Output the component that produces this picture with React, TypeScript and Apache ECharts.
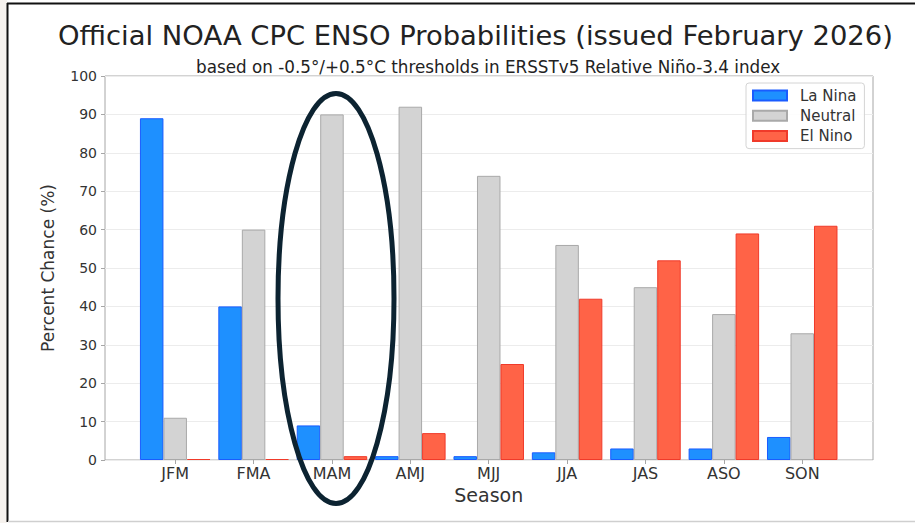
import React, { useEffect, useRef } from "react";
import * as echarts from "echarts";

const seasons = ["JFM", "FMA", "MAM", "AMJ", "MJJ", "JJA", "JAS", "ASO", "SON"];
const laNina = [89, 40, 9, 1, 1, 2, 3, 3, 6];
const neutral = [11, 60, 90, 92, 74, 56, 45, 38, 33];
const elNino = [0, 0, 1, 7, 25, 42, 52, 59, 61];
const yTicks = { min: 0, max: 100, interval: 10 };

const FONT = "DejaVu Sans";
const TXT = "#333333";
const SPINE = "#a6a6a6";

export default function App() {
  const ref = useRef<HTMLDivElement>(null);
  useEffect(() => {
    if (!ref.current) return;
    const chart = echarts.init(ref.current, null, { renderer: "svg" });
    const frameLeft = 105;
    const frameRight = 873;
    const top = 76;
    const bottom = 63;
    const band = 78.38;
    const firstCenter = 175.2;
    const barsLeft = firstCenter - band / 2;
    const barsRight = barsLeft + band * seasons.length;
    chart.setOption({
      animation: false,
      backgroundColor: "#ffffff",
      textStyle: { fontFamily: FONT },
      title: [
        {
          text: "Official NOAA CPC ENSO Probabilities (issued February 2026)",
          left: 58,
          top: 22,
          padding: 0,
          textStyle: { fontFamily: FONT, fontSize: 27.4, fontWeight: "normal", color: "#222" },
        },
        {
          text: "based on -0.5°/+0.5°C thresholds in ERSSTv5 Relative Niño-3.4 index",
          left: 196,
          top: 58,
          padding: 0,
          textStyle: { fontFamily: FONT, fontSize: 16.8, fontWeight: "normal", color: "#222" },
        },
      ],
      legend: {
        orient: "vertical",
        left: 746,
        top: 83,
        padding: [5, 8, 5, 6],
        itemWidth: 34,
        itemHeight: 10,
        itemGap: 5.3,
        icon: "rect",
        borderColor: "#d4d4d4",
        borderWidth: 1,
        borderRadius: 3,
        backgroundColor: "rgba(255,255,255,0.9)",
        textStyle: { fontFamily: FONT, fontSize: 15, color: TXT, lineHeight: 15, padding: [0, 0, 0, 8] },
        data: ["La Nina", "Neutral", "El Nino"],
      },
      grid: [
        {
          left: frameLeft,
          width: frameRight - frameLeft,
          top,
          bottom,
          show: true,
          borderColor: SPINE,
          borderWidth: 1,
          backgroundColor: "transparent",
        },
        {
          left: barsLeft,
          width: barsRight - barsLeft,
          top,
          bottom,
        },
      ],
      xAxis: [
        { type: "value", gridIndex: 0, min: 0, max: 1, show: false },
        {
          type: "category",
          gridIndex: 1,
          data: seasons,
          axisLine: { show: false },
          axisTick: { show: true, alignWithLabel: true, length: 4, lineStyle: { color: SPINE } },
          axisLabel: { fontFamily: FONT, fontSize: 16, color: TXT, margin: 5 },
          name: "Season",
          nameLocation: "middle",
          nameGap: 18,
          nameTextStyle: { fontFamily: FONT, fontSize: 19, color: TXT },
        },
      ],
      yAxis: [
        {
          type: "value",
          gridIndex: 0,
          min: yTicks.min,
          max: yTicks.max,
          interval: yTicks.interval,
          axisLine: { show: false },
          axisTick: { show: true, length: 4, lineStyle: { color: SPINE } },
          axisLabel: { fontFamily: FONT, fontSize: 14, color: TXT, margin: 8 },
          splitLine: { show: true, lineStyle: { color: "#ececec", width: 1 } },
          name: "Percent Chance (%)",
          nameLocation: "middle",
          nameGap: 49,
          nameTextStyle: { fontFamily: FONT, fontSize: 17, color: TXT },
        },
        {
          type: "value",
          gridIndex: 1,
          min: yTicks.min,
          max: yTicks.max,
          interval: yTicks.interval,
          show: false,
          splitLine: { show: false },
        },
      ],
      series: [
        {
          name: "La Nina",
          type: "bar",
          xAxisIndex: 1,
          yAxisIndex: 1,
          data: laNina,
          barWidth: 23.5,
          barGap: "0%",
          itemStyle: { color: "#1e90ff", borderColor: "#1a5cff", borderWidth: 1 },
        },
        {
          name: "Neutral",
          type: "bar",
          xAxisIndex: 1,
          yAxisIndex: 1,
          data: neutral,
          barWidth: 23.5,
          barGap: "0%",
          itemStyle: { color: "#d3d3d3", borderColor: "#a9a9a9", borderWidth: 1 },
        },
        {
          name: "El Nino",
          type: "bar",
          xAxisIndex: 1,
          yAxisIndex: 1,
          data: elNino,
          barWidth: 23.5,
          barGap: "0%",
          barMinHeight: 1,
          itemStyle: { color: "#ff6347", borderColor: "#f03a2a", borderWidth: 1 },
        },
      ],
      graphic: [
        { type: "rect", shape: { x: 0, y: 0, width: 7, height: 523 }, style: { fill: "#f6f2ee" }, silent: true },
        { type: "line", shape: { x1: 7.5, y1: 3, x2: 7.5, y2: 522 }, style: { stroke: "#111", lineWidth: 2 }, silent: true },
        { type: "line", shape: { x1: 7, y1: 3.5, x2: 915, y2: 3.5 }, style: { stroke: "#111", lineWidth: 2 }, silent: true },
        { type: "line", shape: { x1: 8, y1: 521.5, x2: 915, y2: 521.5 }, style: { stroke: "#cfcfcf", lineWidth: 1.5 }, silent: true },
        {
          type: "ellipse",
          shape: { cx: 336, cy: 298.5, rx: 58, ry: 205 },
          style: { fill: "none", stroke: "#0c2331", lineWidth: 5 },
          z: 100,
          silent: true,
        },
      ],
    });
    return () => chart.dispose();
  }, []);
  return (
    <div
      ref={ref}
      style={{ position: "fixed", left: 0, top: 0, width: 915, height: 523 }}
    />
  );
}
